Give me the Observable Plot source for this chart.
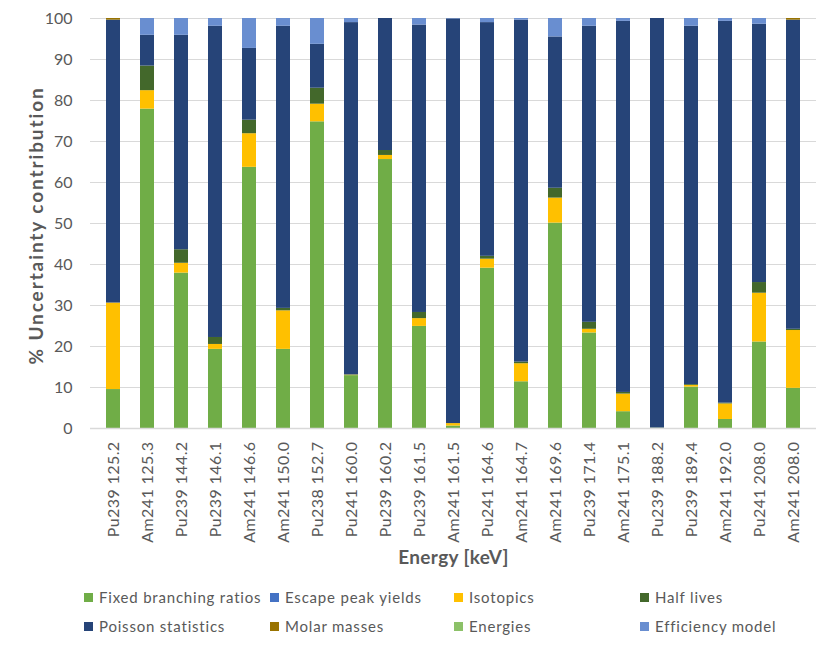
<!DOCTYPE html>
<html>
<head>
<meta charset="utf-8">
<script src="https://cdn.jsdelivr.net/npm/d3@7"></script>
<script src="https://cdn.jsdelivr.net/npm/@observablehq/plot@0.6"></script>
<style>
  html, body { margin: 0; padding: 0; background: #fff; }
  #wrap { position: relative; width: 830px; height: 650px; font-family: Lato, "Open Sans", sans-serif; }
  #legend { position: absolute; left: 0; top: 580px; width: 830px; height: 70px; }
  .item { position: absolute; display: flex; align-items: center; font-size: 15px; letter-spacing: 0.8px; color: #595959; white-space: nowrap; }
  .sw { width: 9px; height: 9px; margin-right: 6px; }
</style>
</head>
<body>
<div id="wrap"><div id="chart"></div><div id="legend"></div></div>
<script>
const categories = [
  "Pu239 125.2","Am241 125.3","Pu239 144.2","Pu239 146.1","Am241 146.6","Am241 150.0","Pu238 152.7",
  "Pu241 160.0","Pu239 160.2","Pu239 161.5","Am241 161.5","Pu241 164.6","Am241 164.7","Am241 169.6",
  "Pu239 171.4","Am241 175.1","Pu239 188.2","Pu239 189.4","Am241 192.0","Pu241 208.0","Am241 208.0"
];
const seriesNames = [
  "Fixed branching ratios","Escape peak yields","Isotopics","Half lives",
  "Poisson statistics","Molar masses","Energies","Efficiency model"
];
const seriesColors = ["#70AD47","#4472C4","#FFC000","#43682B","#264478","#997300","#8CC168","#698ED0"];

const fixedBranching = [9.5,77.9,37.9,19.3,63.7,19.3,74.8,12.9,65.6,24.9,0.6,39.1,11.4,50.1,23.3,4.1,0.1,10.1,2.2,21.1,9.8];
const escapePeak     = [0,0,0,0,0,0,0,0,0,0,0,0,0,0,0,0,0,0,0,0,0];
const isotopics      = [21.1,4.5,2.4,1.2,8.2,9.4,4.3,0.1,1.0,1.9,0.6,2.2,4.4,6.1,0.9,4.3,0,0.4,3.8,11.9,14.1];
const halfLives      = [0,6.0,3.3,1.7,3.3,0.6,3.9,0.1,1.2,1.5,0,0.7,0.4,2.4,1.7,0.4,0,0.2,0.2,2.6,0.3];
const poisson        = [69.0,7.5,52.3,75.9,17.5,68.8,10.7,85.9,32.2,70.1,98.7,57.0,83.4,36.9,72.2,90.5,99.9,87.4,93.1,63.0,75.4];
const molarMasses    = [0.4,0,0,0,0,0,0,0,0,0,0,0,0,0,0,0,0,0,0,0,0.4];
const energies       = [0,0,0,0,0,0,0,0,0,0,0,0,0,0,0,0,0,0,0,0,0];
const efficiency     = [0,4.1,4.1,1.9,7.3,1.9,6.3,1.0,0,1.6,0.1,1.0,0.4,4.5,1.9,0.7,0,1.9,0.7,1.4,0];
const yTicks = [0,10,20,30,40,50,60,70,80,90,100];

const seriesValues = [fixedBranching, escapePeak, isotopics, halfLives, poisson, molarMasses, energies, efficiency];
const rows = [];
seriesNames.forEach((s, i) => {
  categories.forEach((c, j) => rows.push({cat: c, series: s, value: seriesValues[i][j]}));
});

const yTitle = "% Uncertainty contribution";
const xTitle = "Energy [keV]";

const plot = Plot.plot({
  width: 830,
  height: 580,
  marginTop: 18,
  marginBottom: 152,
  marginLeft: 90,
  marginRight: 14,
  style: {fontFamily: "Lato, 'Open Sans', sans-serif", fontSize: "16px", color: "#595959", background: "#fff"},
  x: {type: "band", domain: categories, paddingInner: 0.6, paddingOuter: 0.3},
  y: {domain: [0, 100]},
  color: {domain: seriesNames, range: seriesColors},
  marks: [
    Plot.gridY(yTicks, {stroke: "#d9d9d9", strokeOpacity: 1, strokeWidth: 1.2}),
    Plot.barY(rows, {x: "cat", y: "value", fill: "series"}),
    Plot.ruleY([0], {stroke: "#d9d9d9", strokeWidth: 1.5}),
    Plot.axisY(yTicks, {tickSize: 0, tickPadding: 18, label: null, fill: "#595959", fontSize: 16}),
    Plot.axisX({tickSize: 0, tickPadding: 13, tickRotate: -90, label: null, fill: "#595959", fontSize: 16}),
    Plot.text([yTitle], {frameAnchor: "left", dx: -54, dy: 2, rotate: -90, textAnchor: "middle", lineAnchor: "middle", fontSize: 19, fontWeight: "bold", fill: "#595959", text: d => d}),
    Plot.text([xTitle], {frameAnchor: "bottom", dy: 135, textAnchor: "middle", fontSize: 19, fontWeight: "bold", fill: "#595959", text: d => d})
  ]
});
const sel = d3.select(plot);
sel.selectAll("text").filter(function() { return this.textContent === yTitle; }).attr("letter-spacing", "1.9px");
sel.selectAll("text").filter(function() { return this.textContent === xTitle; }).attr("letter-spacing", "0.35px");
sel.selectAll('[aria-label="x-axis tick label"] text').attr("letter-spacing", "0.4px");
document.getElementById("chart").appendChild(plot);

const legend = document.getElementById("legend");
const colX = [84, 270, 454, 640];
const rowY = [8, 37];
seriesNames.forEach((s, i) => {
  const el = document.createElement("div");
  el.className = "item";
  el.style.left = colX[i % 4] + "px";
  el.style.top = rowY[Math.floor(i / 4)] + "px";
  el.innerHTML = `<span class="sw" style="background:${seriesColors[i]}"></span>${s}`;
  legend.appendChild(el);
});
</script>
</body>
</html>
